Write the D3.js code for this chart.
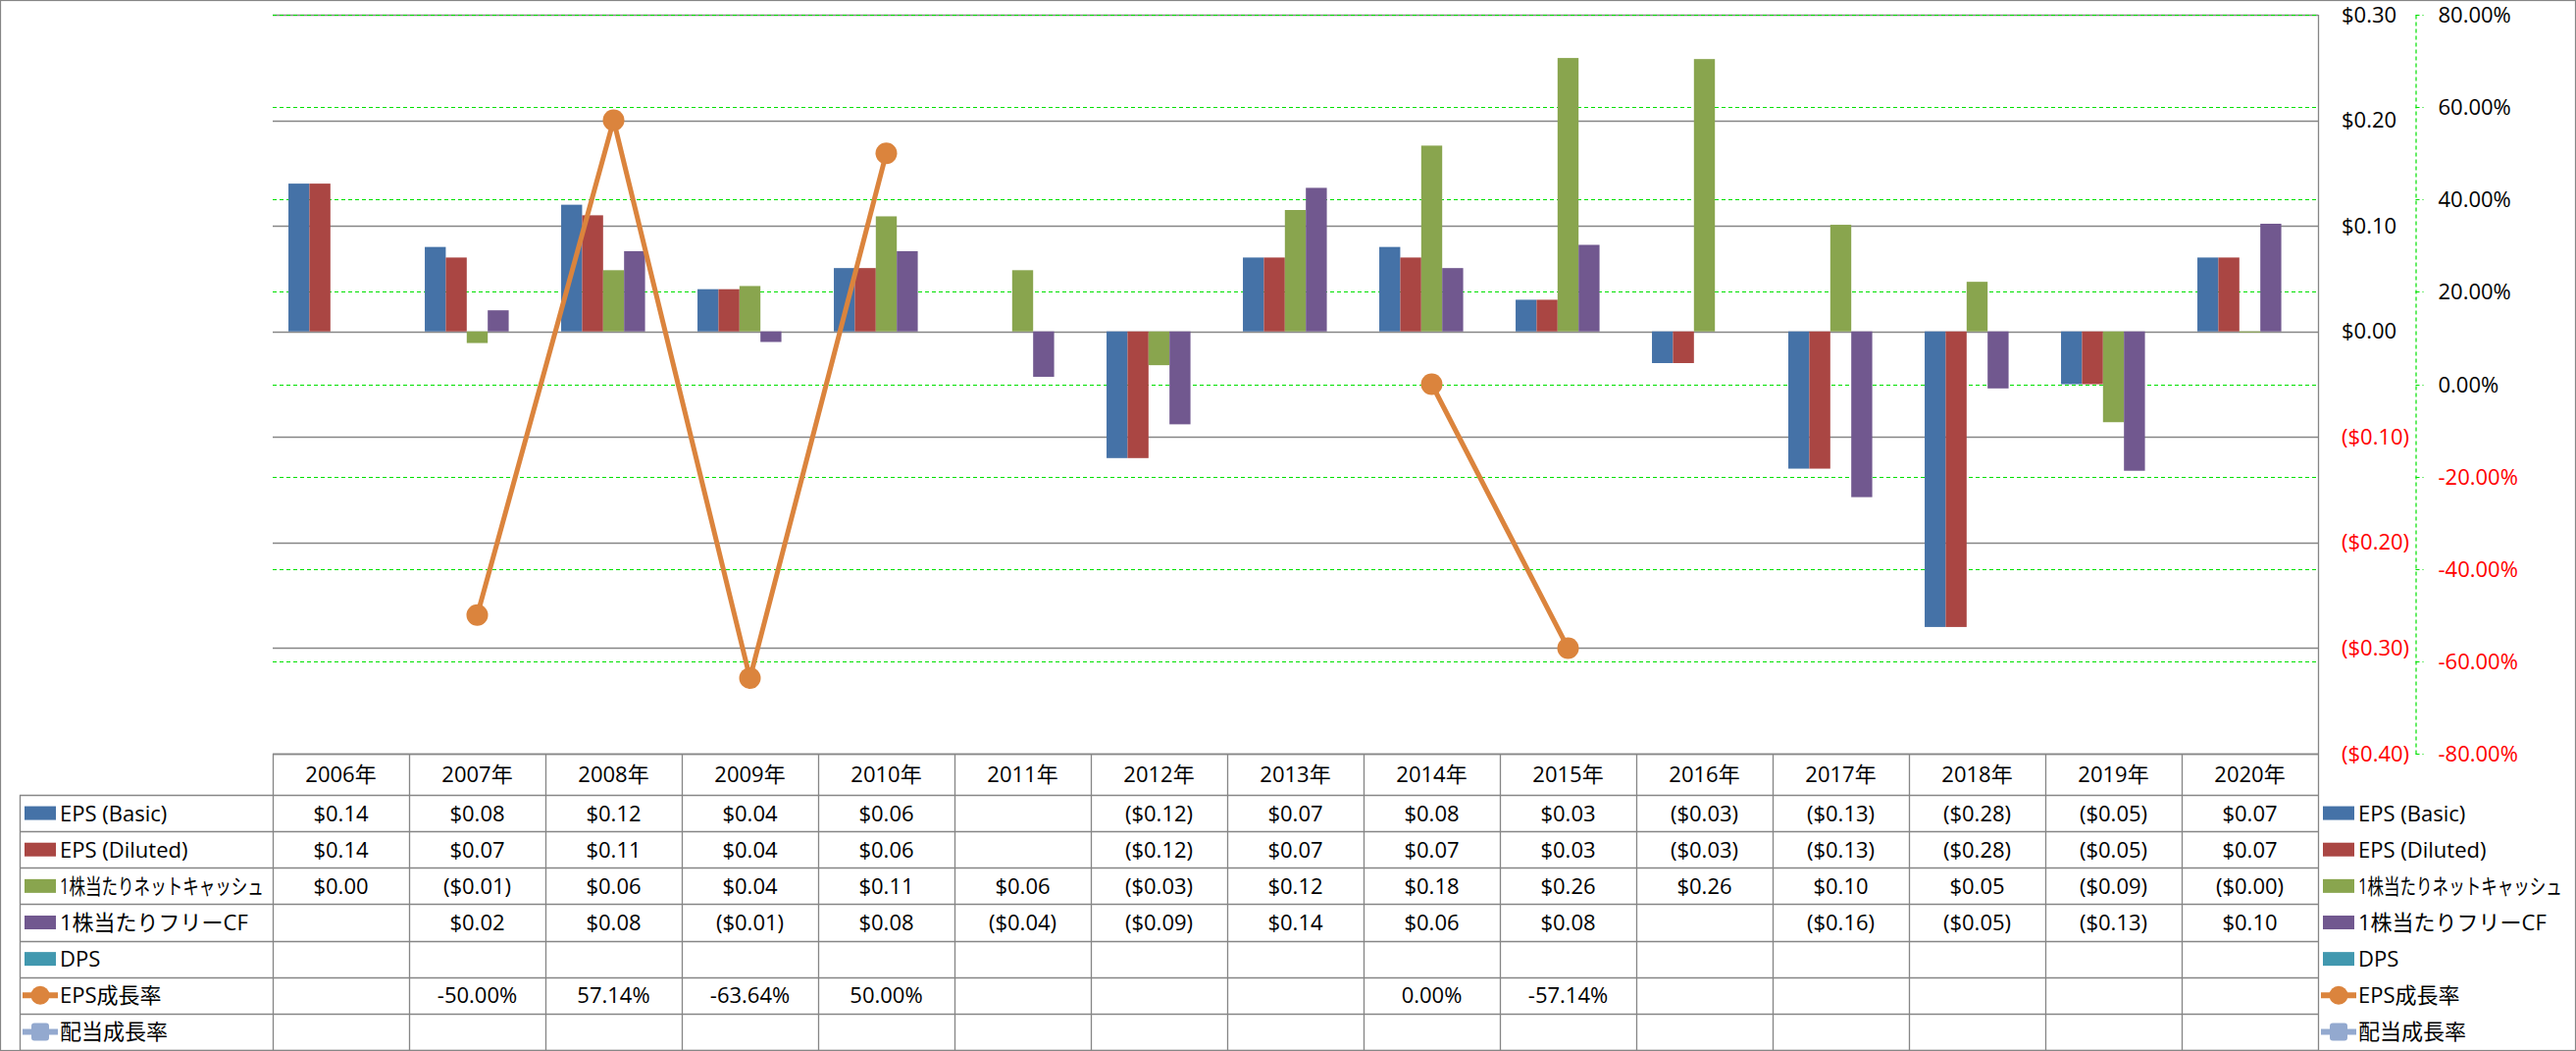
<!DOCTYPE html>
<html>
<head>
<meta charset="utf-8">
<script src="https://cdn.jsdelivr.net/npm/d3@7"></script>
<style>
  html, body { margin: 0; padding: 0; background: #fff; }
  svg { display: block; }
  text { font-family: "Open Sans", "Noto Sans CJK JP", sans-serif; font-size: 22px; fill: #000; }
</style>
</head>
<body>
<svg id="chart" width="2626" height="1071"></svg>
<script>
// ---------------- data ----------------
const years = ["2006年","2007年","2008年","2009年","2010年","2011年","2012年","2013年","2014年","2015年","2016年","2017年","2018年","2019年","2020年"];
const epsBasic   = [0.14, 0.08, 0.12, 0.04, 0.06, null, -0.12, 0.07, 0.08, 0.03, -0.03, -0.13, -0.28, -0.05, 0.07];
const epsDiluted = [0.14, 0.07, 0.11, 0.04, 0.06, null, -0.12, 0.07, 0.07, 0.03, -0.03, -0.13, -0.28, -0.05, 0.07];
const netCashPS  = [0.00, -0.011, 0.058, 0.043, 0.109, 0.058, -0.032, 0.115, 0.176, 0.259, 0.258, 0.101, 0.047, -0.086, -0.001];
const fcfPS      = [null, 0.02, 0.076, -0.01, 0.076, -0.043, -0.088, 0.136, 0.06, 0.082, null, -0.157, -0.054, -0.132, 0.102];
const dps        = [null, null, null, null, null, null, null, null, null, null, null, null, null, null, null];
const epsGrowth  = [null, -0.5, 0.5714, -0.6364, 0.5, null, null, null, 0.0, -0.5714, null, null, null, null, null];
const divGrowth  = [null, null, null, null, null, null, null, null, null, null, null, null, null, null, null];
const seriesNames = ["EPS (Basic)", "EPS (Diluted)", "1株当たりネットキャッシュ", "1株当たりフリーCF", "DPS", "EPS成長率", "配当成長率"];
const seriesColors = ["#4572A7", "#AA4643", "#89A54E", "#71588F", "#4198AF", "#DB843D", "#93A9CF"];
const dollarTicks = [-0.4, -0.3, -0.2, -0.1, 0, 0.1, 0.2, 0.3];
const pctTicks = [-0.8, -0.6, -0.4, -0.2, 0, 0.2, 0.4, 0.6, 0.8];

// ---------------- setup ----------------
const barSeries = [epsBasic, epsDiluted, netCashPS, fcfPS, dps];
const lineSeries = [epsGrowth, divGrowth];
const allSeries = [epsBasic, epsDiluted, netCashPS, fcfPS, dps, epsGrowth, divGrowth];
const kinds = ["bar","bar","bar","bar","bar","line","line"];

const loc = d3.formatLocale({decimal: ".", thousands: ",", grouping: [3], currency: ["$", ""], minus: "-"});
const pctFmt = loc.format(".2%");
const dolFmt = v => v < 0 ? "($" + Math.abs(v).toFixed(2) + ")" : "$" + v.toFixed(2);

const svg = d3.select("#chart");
const L = 278, R = 2363, T = 15, B = 768;
const GRAY = "#868686", GREEN = "#00E000";

const x0 = d3.scaleBand().domain(years).range([L, R]).padding(0);
const x1 = d3.scaleBand().domain(d3.range(barSeries.length)).range([0, x0.bandwidth()]).paddingInner(0).paddingOuter(0.75);
const yL = d3.scaleLinear().domain([-0.4, 0.3]).range([B, T]);
const yR = d3.scaleLinear().domain([-0.8, 0.8]).range([B, T]);

// outer border
svg.append("rect").attr("x", 0.5).attr("y", 0.5).attr("width", 2625).attr("height", 1070)
  .attr("fill", "none").attr("stroke", GRAY).attr("stroke-width", 1.2);

// gridlines
svg.append("g").selectAll("line").data(dollarTicks).join("line")
  .attr("x1", L).attr("x2", R).attr("y1", d => Math.round(yL(d)) + 0.5).attr("y2", d => Math.round(yL(d)) + 0.5)
  .attr("stroke", GRAY).attr("stroke-width", 1.3);
svg.append("g").selectAll("line").data(pctTicks).join("line")
  .attr("x1", L).attr("x2", R).attr("y1", d => Math.round(yR(d)) + 0.5).attr("y2", d => Math.round(yR(d)) + 0.5)
  .attr("stroke", GREEN).attr("stroke-width", 1.2).attr("stroke-dasharray", "4,3");

// bars
const barG = svg.append("g");
barSeries.forEach((vals, si) => {
  barG.append("g").selectAll("rect")
    .data(vals.map((v, i) => ({v, i})).filter(d => d.v !== null && d.v !== 0))
    .join("rect")
    .attr("x", d => x0(years[d.i]) + x1(si))
    .attr("width", x1.bandwidth())
    .attr("y", d => yL(Math.max(0, d.v)))
    .attr("height", d => Math.abs(yL(d.v) - yL(0)))
    .attr("fill", seriesColors[si]);
});

// lines
const lineGen = d3.line().defined(d => d.v !== null)
  .x(d => x0(years[d.i]) + x0.bandwidth() / 2).y(d => yR(d.v));
lineSeries.forEach((vals, li) => {
  const data = vals.map((v, i) => ({v, i}));
  const color = seriesColors[5 + li];
  svg.append("path").datum(data).attr("d", lineGen)
    .attr("fill", "none").attr("stroke", color).attr("stroke-width", 5).attr("stroke-linejoin", "round");
  const pts = data.filter(d => d.v !== null);
  if (li === 0) {
    svg.append("g").selectAll("circle").data(pts).join("circle")
      .attr("cx", d => x0(years[d.i]) + x0.bandwidth() / 2).attr("cy", d => yR(d.v))
      .attr("r", 11).attr("fill", color);
  } else {
    svg.append("g").selectAll("rect").data(pts).join("rect")
      .attr("x", d => x0(years[d.i]) + x0.bandwidth() / 2 - 9).attr("y", d => yR(d.v) - 9)
      .attr("width", 18).attr("height", 18).attr("rx", 3).attr("fill", color);
  }
});

// primary axis (right)
const axL = svg.append("g").attr("transform", `translate(${R},0)`)
  .call(d3.axisRight(yL).tickValues(dollarTicks).tickSize(0).tickPadding(24).tickSizeOuter(0).tickFormat(dolFmt));
axL.attr("font-family", null).attr("font-size", null);
axL.select(".domain").remove();
axL.selectAll("text").attr("fill", d => d < 0 ? "#FF0000" : "#000").style("fill", d => d < 0 ? "#FF0000" : "#000");
svg.append("line").attr("x1", R + 0.5).attr("x2", R + 0.5).attr("y1", T).attr("y2", 1070)
  .attr("stroke", GRAY).attr("stroke-width", 1.3);

// secondary axis (right)
const axR = svg.append("g").attr("transform", `translate(2462.5,0)`)
  .call(d3.axisRight(yR).tickValues(pctTicks).tickSize(8).tickPadding(15).tickSizeOuter(0).tickFormat(pctFmt));
axR.attr("font-family", null).attr("font-size", null);
axR.select(".domain").attr("stroke", GREEN).attr("stroke-width", 1.2).attr("stroke-dasharray", "4,3");
axR.selectAll(".tick line").attr("stroke", GREEN).attr("stroke-width", 1.2).attr("stroke-dasharray", "4,3");
axR.selectAll(".tick").attr("transform", d => `translate(0,${Math.round(yR(d)) + 0.5})`);
axR.selectAll("text").attr("fill", d => d < 0 ? "#FF0000" : "#000").style("fill", d => d < 0 ? "#FF0000" : "#000");

// ---------------- data table ----------------
const tbl = svg.append("g");
const headTop = B, headBot = 810, rowH = (1070 - 810) / 7;
const rowY = d3.range(8).map(i => headBot + i * rowH);
const tblLeft = 20;

// horizontal lines
tbl.append("line").attr("x1", L).attr("x2", R).attr("y1", headTop + 0.5).attr("y2", headTop + 0.5).attr("stroke", GRAY).attr("stroke-width", 1.3);
tbl.selectAll(".hl").data(rowY).join("line").attr("class", "hl")
  .attr("x1", tblLeft).attr("x2", R).attr("y1", d => Math.round(d) + 0.5).attr("y2", d => Math.round(d) + 0.5)
  .attr("stroke", GRAY).attr("stroke-width", 1.3);
// vertical lines
tbl.selectAll(".vl").data(years).join("line").attr("class", "vl")
  .attr("x1", d => Math.round(x0(d)) + 0.5).attr("x2", d => Math.round(x0(d)) + 0.5)
  .attr("y1", headTop).attr("y2", 1070).attr("stroke", GRAY).attr("stroke-width", 1.3);
tbl.append("line").attr("x1", tblLeft + 0.5).attr("x2", tblLeft + 0.5).attr("y1", headBot).attr("y2", 1070)
  .attr("stroke", GRAY).attr("stroke-width", 1.3);

// header
tbl.selectAll(".hd").data(years).join("text").attr("class", "hd")
  .attr("x", d => x0(d) + x0.bandwidth() / 2).attr("y", (headTop + headBot) / 2 + 8)
  .attr("text-anchor", "middle").text(d => d);

// cells
allSeries.forEach((vals, si) => {
  const cy = rowY[si] + rowH / 2 + 8;
  tbl.append("g").selectAll("text")
    .data(vals.map((v, i) => ({v, i})).filter(d => d.v !== null))
    .join("text")
    .attr("x", d => x0(years[d.i]) + x0.bandwidth() / 2).attr("y", cy)
    .attr("text-anchor", "middle")
    .text(d => kinds[si] === "bar" ? dolFmt(d.v) : pctFmt(d.v));
});

// legend keys (left in table, and right of plot)
function legendKey(g, si, x, cy) {
  const color = seriesColors[si];
  if (kinds[si] === "bar") {
    g.append("rect").attr("x", x).attr("y", cy - 7).attr("width", 32).attr("height", 14).attr("fill", color);
  } else {
    g.append("line").attr("x1", x - 2).attr("x2", x + 34).attr("y1", cy).attr("y2", cy)
      .attr("stroke", color).attr("stroke-width", 6);
    if (si === 5) g.append("circle").attr("cx", x + 16).attr("cy", cy).attr("r", 9.5).attr("fill", color);
    else g.append("rect").attr("x", x + 7).attr("y", cy - 9).attr("width", 18).attr("height", 18).attr("rx", 3).attr("fill", color);
  }
  const t = g.append("text").attr("transform", `translate(${x + 36},${cy + 8})`).text(seriesNames[si]);
  const w = t.node().getComputedTextLength();
  const maxW = 208;
  if (w > maxW) {
    t.attr("transform", `translate(${x + 36},${cy + 8}) scale(${maxW / w},1)`);
  }
}
const legL = svg.append("g");
const legR = svg.append("g");
seriesNames.forEach((n, si) => {
  const cy = rowY[si] + rowH / 2;
  legendKey(legL, si, 25, cy);
  legendKey(legR, si, 2368, cy);
});
</script>
</body>
</html>
